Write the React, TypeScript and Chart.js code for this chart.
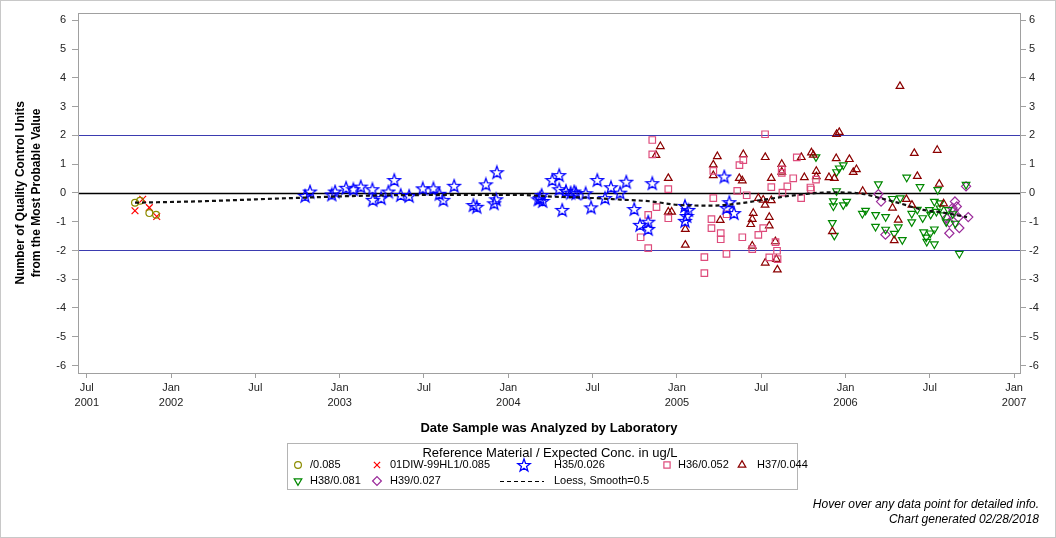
import React, { useEffect, useRef } from 'react';
import { Chart, registerables } from 'chart.js';
import { drawPoint } from 'chart.js/helpers';

Chart.register(...registerables);

type P = [number, number];

// x: analysis date as decimal year, y: QC units from the most probable value
const xTickValues = [2001.5, 2002, 2002.5, 2003, 2003.5, 2004, 2004.5, 2005, 2005.5, 2006, 2006.5, 2007];
const xTickLabels = [
  ['Jul', '2001'], ['Jan', '2002'], ['Jul'], ['Jan', '2003'], ['Jul'], ['Jan', '2004'],
  ['Jul'], ['Jan', '2005'], ['Jul'], ['Jan', '2006'], ['Jul'], ['Jan', '2007'],
];
const yTickValues = [-6, -5, -4, -3, -2, -1, 0, 1, 2, 3, 4, 5, 6];

const seriesNoId: P[] = [
  [2001.786, -0.34], [2001.816, -0.27], [2001.871, -0.70], [2001.911, -0.76],
];

const series01DIW: P[] = [
  [2001.832, -0.22], [2001.786, -0.62], [2001.871, -0.51], [2001.915, -0.82],
];

const seriesH35: P[] = [
  [2002.795, -0.10], [2002.824, 0.05], [2002.953, -0.05], [2002.973, 0.05], [2003.038, 0.18],
  [2003.081, 0.13], [2003.125, 0.22], [2003.194, 0.13], [2003.196, -0.24], [2003.246, -0.18],
  [2003.289, 0.05], [2003.324, 0.45], [2003.362, -0.07], [2003.412, -0.10], [2003.493, 0.16],
  [2003.556, 0.16], [2003.591, -0.03], [2003.615, -0.24], [2003.679, 0.25], [2003.793, -0.42],
  [2003.813, -0.48], [2003.867, 0.30], [2003.916, -0.36], [2003.928, -0.22], [2003.932, 0.72],
  [2004.178, -0.22], [2004.198, -0.07], [2004.188, -0.18], [2004.204, -0.28], [2004.261, 0.45],
  [2004.302, 0.62], [2004.302, 0.13], [2004.320, -0.59], [2004.342, 0.07], [2004.370, 0.01],
  [2004.391, 0.05], [2004.402, -0.01], [2004.459, -0.01], [2004.491, -0.50], [2004.528, 0.45],
  [2004.574, -0.18], [2004.609, 0.20], [2004.663, 0.01], [2004.700, 0.39], [2004.747, -0.56],
  [2004.781, -1.11], [2004.830, -1.00], [2004.830, -1.25], [2004.854, 0.34],
  [2005.048, -0.45], [2005.068, -0.59], [2005.058, -0.80], [2005.048, -0.97],
  [2005.281, 0.57], [2005.311, -0.32], [2005.295, -0.52], [2005.339, -0.70],
];

const seriesH36: P[] = [
  [2004.785, -1.54], [2004.830, -0.76], [2004.830, -1.92], [2004.854, 1.84], [2004.854, 1.34],
  [2004.879, -0.49], [2004.949, 0.13], [2004.949, -0.88], [2005.163, -2.23], [2005.163, -2.79],
  [2005.205, -0.91], [2005.205, -1.22], [2005.216, 0.77], [2005.216, -0.18], [2005.260, -1.40],
  [2005.260, -1.61], [2005.294, -2.12], [2005.295, -0.74], [2005.358, 0.07], [2005.371, 0.97],
  [2005.394, 1.14], [2005.388, -1.54], [2005.414, -0.08], [2005.447, -1.95], [2005.483, -1.46],
  [2005.512, -1.22], [2005.523, 2.04], [2005.548, -2.24], [2005.560, 0.20], [2005.585, -1.71],
  [2005.594, -2.01], [2005.597, -2.30], [2005.622, 0.82], [2005.622, 0.70], [2005.626, 0.01],
  [2005.655, 0.23], [2005.690, 0.51], [2005.711, 1.24], [2005.737, -0.18], [2005.792, 0.19],
  [2005.795, 0.12], [2005.825, 0.46],
];

const seriesH37: P[] = [
  [2004.876, 1.31], [2004.902, 1.62], [2004.949, 0.51], [2004.949, -0.66], [2004.969, -0.66],
  [2005.050, -1.26], [2005.050, -1.81], [2005.216, 0.98], [2005.216, 0.61], [2005.240, 1.27],
  [2005.257, -0.95], [2005.370, 0.51], [2005.388, 0.43], [2005.394, 1.34], [2005.438, -1.09],
  [2005.447, -0.91], [2005.453, -0.70], [2005.447, -1.84], [2005.483, -0.18], [2005.512, -0.24],
  [2005.523, -0.42], [2005.524, 1.24], [2005.524, -2.43], [2005.548, -0.84], [2005.548, -1.14],
  [2005.560, 0.51], [2005.560, -0.26], [2005.584, -1.69], [2005.590, -2.30], [2005.596, -2.67],
  [2005.622, 1.00], [2005.622, 0.73], [2005.738, 1.24], [2005.756, 0.54], [2005.798, 1.40],
  [2005.809, 1.32], [2005.827, 0.76], [2005.827, 0.57], [2005.902, 0.54], [2005.922, -1.34],
  [2005.934, 0.51], [2005.945, 1.20], [2005.947, 2.04], [2005.963, 2.11], [2006.023, 1.17],
  [2006.046, 0.72], [2006.065, 0.82], [2006.102, 0.06], [2006.279, -0.52], [2006.289, -1.65],
  [2006.313, -0.94], [2006.323, 3.71], [2006.361, -0.22], [2006.394, -0.42], [2006.408, 1.38],
  [2006.426, 0.58], [2006.544, 1.49], [2006.556, 0.31], [2006.582, -0.37],
];

const seriesH38: P[] = [
  [2005.825, 1.25], [2005.922, -1.04], [2005.934, -1.48], [2005.928, -0.28], [2005.928, -0.46],
  [2005.947, 0.07], [2005.947, 0.73], [2005.963, 0.86], [2005.987, 0.97], [2005.987, -0.42],
  [2006.007, -0.30], [2006.100, -0.72], [2006.119, -0.61], [2006.179, -0.76], [2006.178, -1.17],
  [2006.195, 0.31], [2006.238, -0.83], [2006.238, -1.27], [2006.278, -0.20], [2006.289, -1.41],
  [2006.313, -1.19], [2006.325, -0.18], [2006.337, -1.63], [2006.363, 0.54], [2006.393, -0.72],
  [2006.393, -1.01], [2006.426, -0.58], [2006.442, 0.21], [2006.458, -0.87], [2006.463, -1.36],
  [2006.479, -1.54], [2006.482, -1.69], [2006.498, -0.59], [2006.505, -0.75], [2006.503, -1.40],
  [2006.527, -0.30], [2006.527, -1.26], [2006.527, -1.78], [2006.539, -0.65], [2006.547, 0.11],
  [2006.561, -0.53], [2006.561, -0.35], [2006.580, -0.77], [2006.598, -1.01], [2006.610, -0.59],
  [2006.636, -0.73], [2006.651, -1.06], [2006.675, -2.11], [2006.715, 0.29],
];

const seriesH39: P[] = [
  [2006.195, -0.04], [2006.211, -0.30], [2006.237, -1.45], [2006.600, -0.88], [2006.616, -1.03],
  [2006.616, -1.40], [2006.635, -0.52], [2006.641, -0.62], [2006.649, -0.30], [2006.660, -0.47],
  [2006.669, -0.85], [2006.675, -1.22], [2006.715, 0.23], [2006.728, -0.84],
];

const loessFit: P[] = [
  [2001.786, -0.34], [2002.172, -0.29], [2002.706, -0.18], [2003.198, -0.09], [2003.695, -0.07],
  [2004.069, -0.07], [2004.265, -0.13], [2004.484, -0.17], [2004.662, -0.23], [2004.840, -0.29],
  [2005.018, -0.42], [2005.214, -0.44], [2005.374, -0.36], [2005.510, -0.24], [2005.670, -0.10],
  [2005.771, -0.03], [2005.907, 0.02], [2006.026, 0.01], [2006.104, -0.03], [2006.187, -0.15],
  [2006.323, -0.36], [2006.460, -0.59], [2006.578, -0.68], [2006.721, -0.84],
];

const legendLabels = [
  '/0.085', '01DIW-99HL1/0.085', 'H35/0.026', 'H36/0.052', 'H37/0.044',
  'H38/0.081', 'H39/0.027', 'Loess, Smooth=0.5',
];

const FONT = '"Liberation Sans", Arial, Helvetica, sans-serif';
const W = 1056;
const H = 538;

function makeStar(color: string): HTMLCanvasElement {
  const c = document.createElement('canvas');
  const size = 16;
  c.width = size;
  c.height = size;
  const g = c.getContext('2d')!;
  const cx = size / 2;
  const cy = size / 2 + 0.6;
  const R = 6.6;
  const r = 2.7;
  g.beginPath();
  for (let i = 0; i < 10; i++) {
    const a = -Math.PI / 2 + (i * Math.PI) / 5;
    const rad = i % 2 === 0 ? R : r;
    const px = cx + Math.cos(a) * rad;
    const py = cy + Math.sin(a) * rad;
    if (i === 0) g.moveTo(px, py);
    else g.lineTo(px, py);
  }
  g.closePath();
  g.strokeStyle = color;
  g.lineWidth = 1.3;
  g.stroke();
  return c;
}

const toXY = (arr: P[]) => arr.map(([x, y]) => ({ x, y }));

export default function App() {
  const ref = useRef<HTMLCanvasElement>(null);

  useEffect(() => {
    const canvas = ref.current!;
    const star = makeStar('#0000ff');

    const markers = [
      { style: 'circle' as any, rotation: 0, radius: 3.4, color: '#8c8c00' },
      { style: 'crossRot' as any, rotation: 0, radius: 4.8, color: '#ff0000' },
      { style: star as any, rotation: 0, radius: 6, color: '#0000ff' },
      { style: 'rect' as any, rotation: 0, radius: 4.6, color: '#de4c7c' },
      { style: 'triangle' as any, rotation: 0, radius: 4.4, color: '#8b0000' },
      { style: 'triangle' as any, rotation: 180, radius: 4.4, color: '#008800' },
      { style: 'rectRot' as any, rotation: 0, radius: 4.6, color: '#9a2a9a' },
    ];
    const seriesData = [seriesNoId, series01DIW, seriesH35, seriesH36, seriesH37, seriesH38, seriesH39];

    const pointSets = seriesData.map((d, i) => ({
      type: 'scatter' as const,
      label: legendLabels[i],
      data: toXY(d),
      yAxisID: 'y',
      pointStyle: markers[i].style,
      rotation: markers[i].rotation,
      pointRadius: markers[i].radius,
      pointBorderColor: markers[i].color,
      pointBackgroundColor: 'rgba(0,0,0,0)',
      pointBorderWidth: 1.2,
      showLine: false,
      order: 2,
    }));

    const loessSet = {
      type: 'line' as const,
      label: legendLabels[7],
      data: toXY(loessFit),
      yAxisID: 'y',
      borderColor: '#111111',
      borderWidth: 2.2,
      borderDash: [4, 3],
      pointRadius: 0,
      fill: false,
      cubicInterpolationMode: 'monotone' as const,
      order: 1,
    };

    const decorations = {
      id: 'decorations',
      beforeDraw(chart: any) {
        const c = chart.ctx;
        c.save();
        c.fillStyle = '#ffffff';
        c.fillRect(0, 0, W, H);
        c.restore();
      },
      beforeDatasetsDraw(chart: any) {
        const c = chart.ctx;
        const a = chart.chartArea;
        const ys = chart.scales.y;
        const refs = [
          { v: 2, color: '#3b3bb0', w: 1 },
          { v: -2, color: '#3b3bb0', w: 1 },
          { v: 0, color: '#000000', w: 1.4 },
        ];
        c.save();
        refs.forEach((r) => {
          const py = Math.round(ys.getPixelForValue(r.v)) + 0.5;
          c.beginPath();
          c.strokeStyle = r.color;
          c.lineWidth = r.w;
          c.moveTo(a.left, py);
          c.lineTo(a.right, py);
          c.stroke();
        });
        c.restore();
      },
      afterDraw(chart: any) {
        const c = chart.ctx;
        const a = chart.chartArea;
        c.save();
        // plot frame
        c.strokeStyle = '#a0a0a0';
        c.lineWidth = 1;
        c.strokeRect(Math.round(a.left) + 0.5, Math.round(a.top) + 0.5,
          Math.round(a.right - a.left), Math.round(a.bottom - a.top));

        // axis titles
        c.fillStyle = '#000000';
        c.font = `bold 13px ${FONT}`;
        c.textAlign = 'center';
        c.textBaseline = 'middle';
        c.fillText('Date Sample was Analyzed by Laboratory', (a.left + a.right) / 2, 428);

        const cy = (a.top + a.bottom) / 2;
        const yTitle = ['Number of Quality Control Units', 'from the Most Probable Value'];
        c.font = `bold 12px ${FONT}`;
        [21, 37].forEach((x, i) => {
          c.save();
          c.translate(x, cy);
          c.rotate(-Math.PI / 2);
          c.fillText(yTitle[i], 0, 0);
          c.restore();
        });

        // legend box
        c.strokeStyle = '#b4b4b4';
        c.strokeRect(287.5, 443.5, 510, 46);
        c.fillStyle = '#000000';
        c.font = `13px ${FONT}`;
        c.textAlign = 'center';
        c.fillText('Reference Material / Expected Conc. in ug/L', 550, 453);

        const entries = [
          { m: 0, mx: 298, tx: 310, y: 465 },
          { m: 1, mx: 377, tx: 390, y: 465 },
          { m: 2, mx: 524, tx: 554, y: 465 },
          { m: 3, mx: 667, tx: 678, y: 465 },
          { m: 4, mx: 742, tx: 757, y: 465 },
          { m: 5, mx: 298, tx: 310, y: 481 },
          { m: 6, mx: 377, tx: 390, y: 481 },
          { m: 7, mx: 0, tx: 554, y: 481 },
        ];
        c.font = `11px ${FONT}`;
        c.textAlign = 'left';
        entries.forEach((e) => {
          if (e.m < 7) {
            const mk = markers[e.m];
            c.save();
            c.strokeStyle = mk.color;
            c.fillStyle = 'rgba(0,0,0,0)';
            c.lineWidth = 1.2;
            drawPoint(c, {
              pointStyle: mk.style,
              rotation: mk.rotation,
              radius: Math.min(mk.radius, 4.4),
              borderWidth: 1.2,
            } as any, e.mx, e.y);
            c.restore();
          } else {
            c.save();
            c.strokeStyle = '#000000';
            c.lineWidth = 1;
            c.setLineDash([4, 3]);
            c.beginPath();
            c.moveTo(500, e.y + 0.5);
            c.lineTo(544, e.y + 0.5);
            c.stroke();
            c.restore();
          }
          c.fillStyle = '#000000';
          c.fillText(legendLabels[e.m], e.tx, e.y);
        });

        // footnotes
        c.font = `italic 12px ${FONT}`;
        c.textAlign = 'right';
        c.fillText('Hover over any data point for detailed info.', 1039, 505);
        c.fillText('Chart generated 02/28/2018', 1039, 520);

        // outer border
        c.strokeStyle = '#c8c8c8';
        c.strokeRect(0.5, 0.5, W - 1, H - 1);
        c.restore();
      },
    };

    const tickFont = { family: FONT, size: 11 };
    const gridCommon = {
      display: true,
      drawOnChartArea: false,
      drawTicks: true,
      color: '#a0a0a0',
    };

    const chart = new Chart(canvas, {
      type: 'scatter',
      data: { datasets: [loessSet as any, ...pointSets] },
      options: {
        animation: false,
        responsive: false,
        devicePixelRatio: 1,
        events: [],
        layout: { padding: { left: 0, right: 0, top: 12, bottom: 125 } },
        plugins: {
          legend: { display: false },
          tooltip: { enabled: false },
        },
        scales: {
          x: {
            type: 'linear',
            position: 'bottom',
            min: 2001.448,
            max: 2007.035,
            afterBuildTicks: (s: any) => {
              s.ticks = xTickValues.map((v) => ({ value: v }));
            },
            afterFit: (s: any) => {
              s.height = 40;
            },
            grid: { ...gridCommon, tickLength: 5 },
            border: { display: false },
            ticks: {
              autoSkip: false,
              maxRotation: 0,
              minRotation: 0,
              padding: 3,
              color: '#222222',
              font: { ...tickFont, lineHeight: 1.35 },
              callback: (_v: any, i: number) => xTickLabels[i],
            },
          },
          y: {
            type: 'linear',
            position: 'left',
            min: -6.26,
            max: 6.27,
            afterBuildTicks: (s: any) => {
              s.ticks = yTickValues.map((v) => ({ value: v }));
            },
            afterFit: (s: any) => {
              s.width = 78;
            },
            grid: { ...gridCommon, tickLength: 6 },
            border: { display: false },
            ticks: { padding: 6, color: '#222222', font: tickFont },
          },
          y2: {
            type: 'linear',
            position: 'right',
            min: -6.26,
            max: 6.27,
            afterBuildTicks: (s: any) => {
              s.ticks = yTickValues.map((v) => ({ value: v }));
            },
            afterFit: (s: any) => {
              s.width = 36;
            },
            grid: { ...gridCommon, tickLength: 6 },
            border: { display: false },
            ticks: { padding: 3, color: '#222222', font: tickFont },
          },
        },
      },
      plugins: [decorations],
    } as any);

    return () => chart.destroy();
  }, []);

  return (
    <div style={{ position: 'fixed', left: 0, top: 0, width: W, height: H, background: '#fff' }}>
      <canvas ref={ref} width={W} height={H} style={{ display: 'block', width: W, height: H }} />
    </div>
  );
}
